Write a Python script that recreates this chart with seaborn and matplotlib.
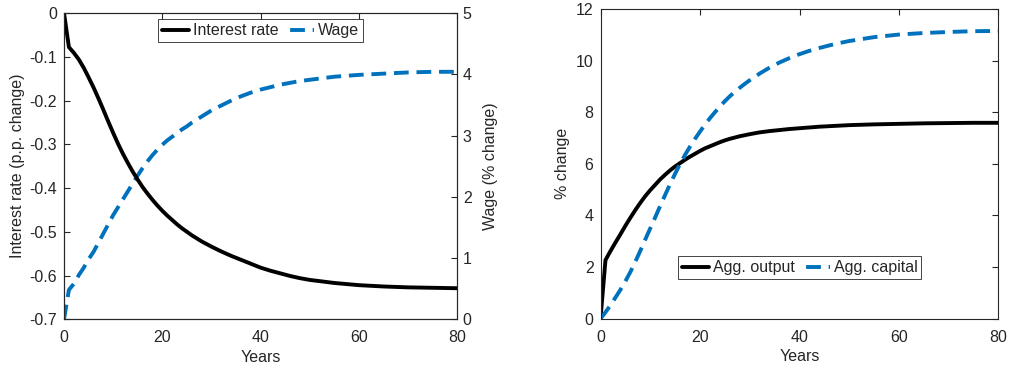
import numpy as np
import pandas as pd
import matplotlib
matplotlib.use("Agg")
import matplotlib.pyplot as plt
import seaborn as sns
from matplotlib.lines import Line2D

years = [0, 1, 2, 3, 4, 5, 6, 7, 8, 9, 10, 11, 12, 13, 14, 15, 16, 17, 18, 19,
         20, 21, 22, 23, 24, 25, 26, 27, 28, 29, 30, 32, 34, 36, 38, 40, 42, 44,
         46, 48, 50, 55, 60, 65, 70, 75, 80]
interest_rate = [0, -0.078, -0.091, -0.106, -0.125, -0.147, -0.170, -0.195, -0.221,
                 -0.248, -0.274, -0.299, -0.322, -0.343, -0.363, -0.381, -0.398,
                 -0.413, -0.427, -0.440, -0.452, -0.463, -0.473, -0.483, -0.492,
                 -0.500, -0.508, -0.515, -0.522, -0.528, -0.534, -0.545, -0.555,
                 -0.564, -0.573, -0.582, -0.589, -0.595, -0.601, -0.606, -0.610,
                 -0.617, -0.622, -0.625, -0.627, -0.628, -0.629]
wage = [0, 0.48, 0.58, 0.72, 0.84, 0.98, 1.10, 1.25, 1.40, 1.55, 1.70, 1.83, 1.96,
        2.09, 2.22, 2.35, 2.47, 2.58, 2.68, 2.77, 2.85, 2.92, 2.98, 3.04, 3.10,
        3.15, 3.21, 3.26, 3.31, 3.36, 3.41, 3.49, 3.57, 3.64, 3.70, 3.75, 3.79,
        3.83, 3.86, 3.89, 3.91, 3.96, 3.99, 4.01, 4.03, 4.04, 4.04]
agg_output = [0, 2.27, 2.62, 2.95, 3.27, 3.60, 3.91, 4.21, 4.49, 4.75, 4.98, 5.19,
              5.40, 5.58, 5.75, 5.90, 6.03, 6.16, 6.28, 6.39, 6.50, 6.60, 6.68,
              6.76, 6.84, 6.91, 6.97, 7.02, 7.07, 7.11, 7.15, 7.22, 7.27, 7.31,
              7.35, 7.38, 7.41, 7.44, 7.46, 7.48, 7.50, 7.53, 7.55, 7.57, 7.58,
              7.59, 7.59]
agg_capital = [0, 0.25, 0.52, 0.82, 1.12, 1.45, 1.81, 2.21, 2.63, 3.07, 3.50, 3.93,
               4.37, 4.80, 5.22, 5.62, 6.00, 6.35, 6.67, 6.97, 7.25, 7.52, 7.77,
               8.00, 8.22, 8.43, 8.62, 8.79, 8.95, 9.10, 9.24, 9.50, 9.73, 9.93,
               10.10, 10.25, 10.38, 10.49, 10.59, 10.68, 10.76, 10.91, 11.01,
               11.07, 11.11, 11.14, 11.15]

x_ticks = [0, 20, 40, 60, 80]
r_ticks = [0, -0.1, -0.2, -0.3, -0.4, -0.5, -0.6, -0.7]
r_labels = ["0", "-0.1", "-0.2", "-0.3", "-0.4", "-0.5", "-0.6", "-0.7"]
w_ticks = [0, 1, 2, 3, 4, 5]
pct_ticks = [0, 2, 4, 6, 8, 10, 12]

sns.set_style("white")
plt.rcParams["font.family"] = ["Liberation Sans", "DejaVu Sans"]
plt.rcParams["axes.unicode_minus"] = False
FS = 11.5
plt.rcParams["font.size"] = FS

DARK = "#262626"
BLUE = "#0072BD"
LW = 2.8
DASH = (3.8, 2.0)

df = pd.DataFrame({"Years": years, "r": interest_rate, "w": wage,
                   "y": agg_output, "k": agg_capital})

fig = plt.figure(figsize=(10.11, 3.71), dpi=100)
ax1 = fig.add_axes([64 / 1011, (371 - 319.3) / 371, 393.3 / 1011, 306.3 / 371])
ax3 = fig.add_axes([600.5 / 1011, (371 - 318.7) / 371, 398 / 1011, 309.7 / 371])


def style(ax, right_ticks=True):
    for s in ax.spines.values():
        s.set_color(DARK)
        s.set_linewidth(0.8)
    ax.tick_params(direction="in", length=4, width=0.8, colors=DARK,
                   labelcolor=DARK, labelsize=FS, top=True, right=right_ticks)
    ax.tick_params(axis="x", pad=8)
    ax.tick_params(axis="y", pad=5)


# Left panel
sns.lineplot(data=df, x="Years", y="r", ax=ax1, color="black", lw=LW)
ax1.set_xlim(0, 80)
ax1.set_ylim(-0.7, 0)
ax1.set_xticks(x_ticks)
ax1.set_yticks(r_ticks)
ax1.set_yticklabels(r_labels)
ax1.set_xlabel("Years", color=DARK, fontsize=FS, labelpad=3)
ax1.set_ylabel("Interest rate (p.p. change)", color=DARK, fontsize=FS, labelpad=3)
style(ax1, right_ticks=False)

ax2 = ax1.twinx()
sns.lineplot(data=df, x="Years", y="w", ax=ax2, color=BLUE, lw=LW)
for ln in ax2.get_lines():
    ln.set_dashes(DASH)
ax2.set_ylim(0, 5)
ax2.set_yticks(w_ticks)
ax2.set_ylabel("Wage (% change)", color=DARK, fontsize=FS, labelpad=8)
for s in ax2.spines.values():
    s.set_color(DARK)
    s.set_linewidth(0.8)
ax2.tick_params(axis="y", direction="in", length=4, width=0.8, colors=DARK,
                labelcolor=DARK, labelsize=FS, pad=4)
ax1.set_zorder(ax2.get_zorder() + 1)
ax1.patch.set_visible(False)

h1 = Line2D([], [], color="black", lw=LW)
h2 = Line2D([], [], color=BLUE, lw=LW, linestyle=(5.0, DASH))
leg_kw = dict(ncol=2, frameon=True, fancybox=False, framealpha=1, edgecolor=DARK,
              fontsize=FS, handlelength=1.7, handletextpad=0.25,
              columnspacing=0.5, borderpad=0.25, borderaxespad=0)
leg1 = ax1.legend([h1, h2], ["Interest rate", "Wage"], loc="upper center",
                  bbox_to_anchor=(0.5, 0.98), **leg_kw)
leg1.get_frame().set_linewidth(0.6)

# Right panel
sns.lineplot(data=df, x="Years", y="y", ax=ax3, color="black", lw=LW)
sns.lineplot(data=df, x="Years", y="k", ax=ax3, color=BLUE, lw=LW)
ax3.get_lines()[1].set_dashes(DASH)
ax3.set_xlim(0, 80)
ax3.set_ylim(0, 12)
ax3.set_xticks(x_ticks)
ax3.set_yticks(pct_ticks)
ax3.set_xlabel("Years", color=DARK, fontsize=FS, labelpad=3)
ax3.set_ylabel("% change", color=DARK, fontsize=FS, labelpad=4)
style(ax3)
leg3 = ax3.legend([h1, h2], ["Agg. output", "Agg. capital"], loc="lower center",
                  bbox_to_anchor=(0.5, 39.4 / 309.7), **leg_kw)
leg3.get_frame().set_linewidth(0.6)

fig.savefig("out.png", dpi=100)
